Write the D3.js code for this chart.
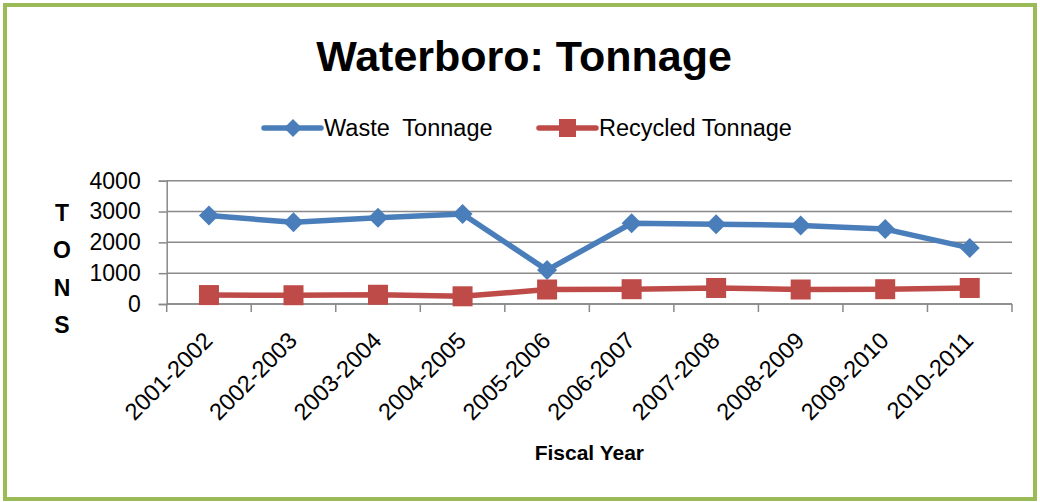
<!DOCTYPE html>
<html>
<head>
<meta charset="utf-8">
<script src="https://cdn.jsdelivr.net/npm/d3@7"></script>
<style>
  html, body { margin: 0; padding: 0; background: #fff; }
  svg { display: block; font-family: "Liberation Sans", Arial, sans-serif; }
</style>
</head>
<body>
<div id="chart"></div>
<script>
const fiscalYears = ["2001-2002", "2002-2003", "2003-2004", "2004-2005", "2005-2006",
  "2006-2007", "2007-2008", "2008-2009", "2009-2010", "2010-2011"];
const wasteTonnage = [2870, 2650, 2800, 2920, 1100, 2620, 2590, 2550, 2430, 1820];
const recycledTonnage = [290, 285, 300, 250, 470, 480, 520, 470, 480, 520];
const yTicks = [0, 1000, 2000, 3000, 4000];

const width = 1040;
const height = 502;
const colors = {
  border: "#9BBB59",
  grid: "#898989",
  waste: "#4A7EBB",
  recycled: "#BE4B48",
  text: "#000",
};

const plot = { left: 166.7, right: 1012, top: 180.7, bottom: 304 };

const svg = d3.select("#chart").append("svg")
  .attr("width", width)
  .attr("height", height);

// outer frame
svg.append("rect")
  .attr("x", 5).attr("y", 5)
  .attr("width", 1030).attr("height", 494)
  .attr("fill", "#fff")
  .attr("stroke", colors.border)
  .attr("stroke-width", 4);

const x = d3.scaleBand().domain(fiscalYears).range([plot.left, plot.right]).padding(0);
const y = d3.scaleLinear().domain([0, 4000]).range([plot.bottom, plot.top]);
const cx = (d) => x(d) + x.bandwidth() / 2;

// title
svg.append("text")
  .attr("x", 524).attr("y", 71)
  .attr("text-anchor", "middle")
  .attr("font-size", 43).attr("font-weight", "bold")
  .attr("fill", colors.text)
  .text("Waterboro: Tonnage");

// gridlines
svg.append("g")
  .selectAll("line")
  .data(yTicks)
  .enter().append("line")
  .attr("x1", plot.left).attr("x2", plot.right)
  .attr("y1", (d) => y(d)).attr("y2", (d) => y(d))
  .attr("stroke", colors.grid)
  .attr("stroke-width", 1.5);

// y axis
const yAxis = svg.append("g")
  .attr("transform", `translate(${plot.left},0)`)
  .call(d3.axisLeft(y).tickValues(yTicks).tickFormat(d3.format("d")).tickSize(8).tickPadding(18));
yAxis.select(".domain").attr("stroke", colors.grid).attr("stroke-width", 1.5);
yAxis.selectAll(".tick line").attr("stroke", colors.grid).attr("stroke-width", 1.5);
yAxis.selectAll(".tick text")
  .attr("font-size", 23).attr("font-family", "Liberation Sans, Arial, sans-serif")
  .attr("fill", colors.text);

// x axis: line, boundary ticks, rotated labels
const xAxis = svg.append("g");
xAxis.append("line")
  .attr("x1", plot.left).attr("x2", plot.right)
  .attr("y1", plot.bottom).attr("y2", plot.bottom)
  .attr("stroke", colors.grid).attr("stroke-width", 1.5);
const boundaries = fiscalYears.map((d) => x(d)).concat([plot.right]);
xAxis.selectAll("line.tick")
  .data(boundaries)
  .enter().append("line")
  .attr("class", "tick")
  .attr("x1", (d) => d).attr("x2", (d) => d)
  .attr("y1", plot.bottom).attr("y2", plot.bottom + 8)
  .attr("stroke", colors.grid).attr("stroke-width", 1.5);
xAxis.selectAll("text")
  .data(fiscalYears)
  .enter().append("text")
  .attr("transform", (d) => `translate(${cx(d) + 5},${plot.bottom + 38}) rotate(-45)`)
  .attr("text-anchor", "end")
  .attr("font-size", 23.5)
  .attr("fill", colors.text)
  .text((d) => d);

// axis titles
svg.append("text")
  .attr("x", (plot.left + plot.right) / 2).attr("y", 460)
  .attr("text-anchor", "middle")
  .attr("font-size", 21).attr("font-weight", "bold")
  .text("Fiscal Year");

svg.append("g")
  .selectAll("text")
  .data(["T", "O", "N", "S"])
  .enter().append("text")
  .attr("x", 62)
  .attr("y", (d, i) => 221 + i * 37.3)
  .attr("text-anchor", "middle")
  .attr("font-size", 23).attr("font-weight", "bold")
  .text((d) => d);

// series
const line = d3.line().x((d, i) => cx(fiscalYears[i])).y((d) => y(d));
const diamond = "M0,-10L10,0L0,10L-10,0Z";

svg.append("path")
  .datum(wasteTonnage)
  .attr("d", line)
  .attr("fill", "none")
  .attr("stroke", colors.waste)
  .attr("stroke-width", 5.5)
  .attr("stroke-linejoin", "round");
svg.append("g")
  .selectAll("path")
  .data(wasteTonnage)
  .enter().append("path")
  .attr("d", diamond)
  .attr("transform", (d, i) => `translate(${cx(fiscalYears[i])},${y(d)})`)
  .attr("fill", colors.waste);

svg.append("path")
  .datum(recycledTonnage)
  .attr("d", line)
  .attr("fill", "none")
  .attr("stroke", colors.recycled)
  .attr("stroke-width", 5.5)
  .attr("stroke-linejoin", "round");
svg.append("g")
  .selectAll("rect")
  .data(recycledTonnage)
  .enter().append("rect")
  .attr("x", (d, i) => cx(fiscalYears[i]) - 10)
  .attr("y", (d) => y(d) - 10)
  .attr("width", 20).attr("height", 20)
  .attr("fill", colors.recycled);

// legend
const legendItems = [
  { name: "Waste  Tonnage", color: colors.waste, shape: "diamond", x: 264 },
  { name: "Recycled Tonnage", color: colors.recycled, shape: "square", x: 539 },
];
const legend = svg.append("g").attr("transform", "translate(0,128)");
const item = legend.selectAll("g")
  .data(legendItems)
  .enter().append("g")
  .attr("transform", (d) => `translate(${d.x},0)`);
item.append("line")
  .attr("x1", 0).attr("x2", 57)
  .attr("stroke", (d) => d.color)
  .attr("stroke-width", 5.5)
  .attr("stroke-linecap", "round");
item.filter((d) => d.shape === "diamond").append("path")
  .attr("d", "M0,-9L9,0L0,9L-9,0Z")
  .attr("transform", "translate(29,0)")
  .attr("fill", (d) => d.color);
item.filter((d) => d.shape === "square").append("rect")
  .attr("x", 20).attr("y", -9).attr("width", 17).attr("height", 18)
  .attr("fill", (d) => d.color);
item.append("text")
  .attr("x", 60).attr("y", 8)
  .attr("font-size", 23.5)
  .attr("xml:space", "preserve")
  .style("white-space", "pre")
  .text((d) => d.name);
</script>
</body>
</html>
